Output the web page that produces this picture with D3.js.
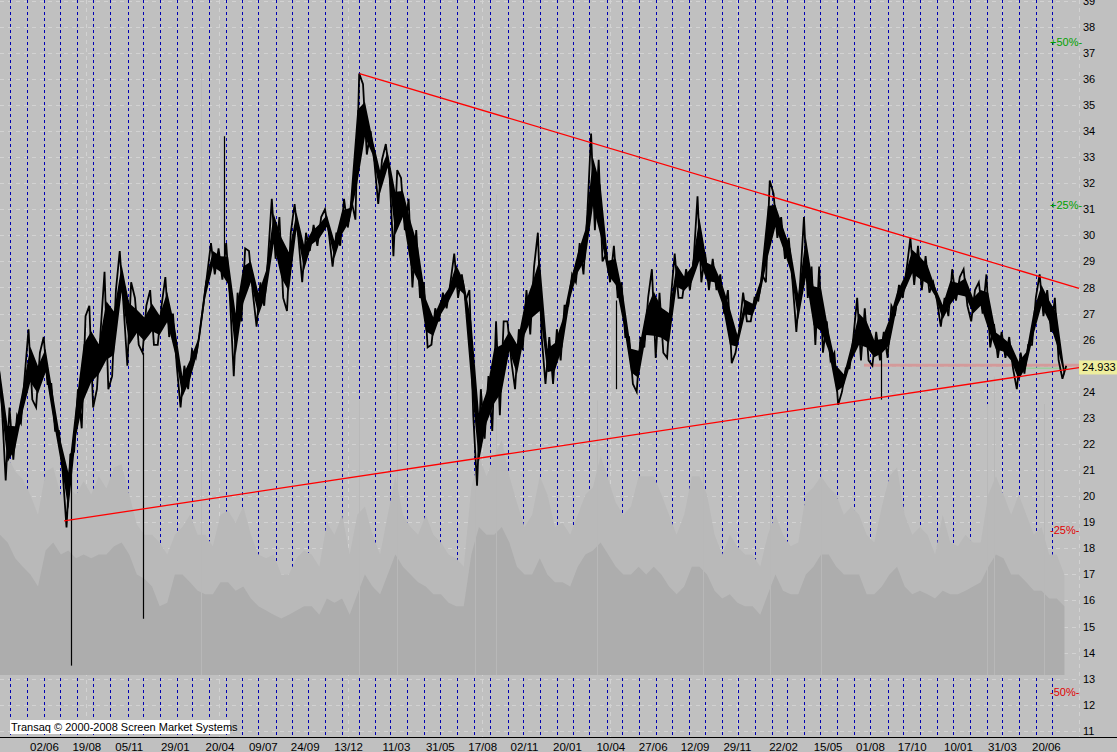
<!DOCTYPE html>
<html><head><meta charset="utf-8">
<script src="https://cdn.jsdelivr.net/npm/d3@7"></script>
<style>
html,body{margin:0;padding:0;background:#c0c0c0;overflow:hidden}
svg{display:block}
text{font-family:"Liberation Sans",Arial,sans-serif;}
</style></head><body>
<svg id="chart" width="1117" height="752"></svg>
<script>
// ---- data ----
const sampleStart = "2003-03-13";   // first sample date (left edge)
const sampleStepDays = 14;          // one sample per two weeks
const priceHigh = [25.3,23.4,23.1,24.6,26.4,25.5,26.1,24.3,22.5,21.6,24.1,26.9,27.3,26.4,28.6,27.9,29.4,28.2,27.6,27.3,
27.9,27.3,28.4,27.0,25.0,25.6,26.2,28.5,29.7,29.5,29.7,27.8,29.5,29.4,28.2,29.1,31.4,30.7,30.1,31.2,
30.1,30.4,30.7,31.0,30.1,31.4,31.3,36.2,35.8,34.0,32.9,33.5,32.5,32.2,31.4,30.2,28.2,27.2,27.8,28.2,
29.3,28.5,27.9,24.1,24.6,26.7,26.7,26.7,26.4,27.9,28.8,30.1,26.1,26.4,27.3,28.5,29.7,30.8,33.9,32.9,
29.3,29.6,28.2,26.1,26.1,27.6,28.7,27.8,27.6,29.3,28.7,29.1,31.5,29.3,29.1,28.5,27.9,26.4,27.8,27.6,
28.5,32.1,31.6,30.7,29.9,28.2,30.7,28.8,28.8,26.7,25.5,24.9,26.1,27.6,27.2,26.3,26.3,27.3,28.1,28.7,
29.9,29.6,29.2,28.2,27.6,28.7,28.4,28.7,27.9,28.2,28.5,26.6,26.3,26.1,25.5,25.8,27.6,28.5,27.9,27.6,25.0];
const priceLow = [23.4,20.6,21.4,22.8,23.7,23.4,24.3,22.5,20.9,18.8,21.7,22.6,23.4,24.1,24.1,24.6,27.3,25.0,25.8,25.5,
25.8,25.8,26.1,25.0,23.4,24.1,25.3,27.3,28.5,28.3,27.6,24.6,26.7,27.8,26.5,27.3,29.1,27.6,27.1,29.9,
28.2,29.4,29.6,30.1,28.8,29.6,30.3,30.6,33.1,32.8,31.2,32.3,29.2,30.2,28.0,27.6,25.7,25.8,26.7,27.2,
27.6,27.5,23.1,20.4,22.2,22.5,23.1,25.2,24.1,25.6,26.2,26.1,24.3,24.3,25.2,27.3,28.2,28.5,30.2,29.0,
28.2,27.6,26.1,24.3,24.0,25.7,25.3,25.5,25.3,27.6,27.6,27.9,28.2,27.9,27.9,27.0,25.1,25.5,26.7,26.7,
27.5,28.2,29.9,29.1,28.2,26.3,27.6,25.8,25.5,25.2,23.5,24.0,24.9,25.2,25.2,25.0,25.2,25.3,27.0,27.6,
28.1,27.9,27.8,27.5,26.5,26.9,27.5,27.3,26.7,27.0,25.7,25.3,25.3,24.9,24.1,24.7,25.8,26.9,26.3,25.2,24.5];
const volumePeak = [39.1,36.4,33.8,32.5,29.9,26.6,33.8,34.5,29.9,31.2,30.0,32.2,30.0,33.0,31.0,34.5,35.0,30.0,25.0,23.3,
23.3,22.0,20.0,23.3,24.6,26.6,23.3,23.3,21.4,26.6,27.3,25.3,28.0,23.3,20.0,19.4,20.0,16.7,16.7,19.4,
20.7,20.0,18.0,25.3,23.3,26.6,20.0,26.6,28.0,23.3,20.0,26.6,33.0,26.6,24.6,23.3,26.6,23.3,22.0,20.0,
19.4,18.0,31.2,36.4,33.0,36.4,39.0,33.0,28.6,24.6,26.6,33.0,30.0,24.6,25.3,23.3,26.6,30.0,31.2,36.4,
32.5,28.6,26.6,28.0,33.0,33.0,33.0,30.0,26.6,23.3,26.6,33.0,33.0,30.0,23.3,20.0,23.3,21.4,20.0,20.0,
18.0,23.3,26.6,23.3,21.4,22.0,30.0,31.2,33.0,31.2,30.0,26.6,28.0,26.6,23.3,22.0,28.0,33.0,34.5,26.6,
23.3,24.6,23.3,20.0,26.6,22.0,21.4,23.3,22.0,22.0,30.0,33.0,30.0,26.6,30.0,26.6,23.3,24.6,20.0,20.0,16.7];
const volumeBase = [23.3,22.0,19.4,18.0,16.7,14.7,20.7,22.0,20.0,20.7,19.4,20.0,19.4,20.0,20.0,21.4,22.0,20.0,16.7,16.0,
14.7,11.4,12.0,16.7,16.7,15.4,14.0,13.4,13.4,15.4,15.4,14.0,14.7,12.7,11.4,10.7,10.0,9.4,10.0,10.7,
11.4,11.4,10.0,12.7,12.0,12.7,10.0,13.4,16.7,14.7,13.4,16.7,20.0,18.0,16.7,15.4,14.7,13.4,13.4,12.0,
11.4,11.4,20.0,24.6,23.3,23.3,24.6,22.0,18.0,16.7,16.7,19.4,16.7,15.4,15.4,14.7,18.0,20.0,20.7,22.0,
20.0,18.0,16.7,16.7,18.0,16.7,18.0,16.7,14.7,13.4,14.7,18.0,18.0,16.7,14.0,12.7,13.4,12.0,11.4,11.4,
10.0,13.4,16.7,14.0,13.4,13.4,16.7,18.0,20.0,20.0,18.0,16.7,16.7,16.7,13.4,13.4,14.7,16.7,18.0,14.7,
13.4,14.0,13.4,12.7,14.0,13.4,13.4,14.0,14.7,15.4,18.0,20.0,19.4,16.7,16.7,15.4,14.0,14.0,12.7,12.7,11.4];
// single-bar outliers of the price series
const spikeDates = ["2003-07-22","2003-12-02","2004-04-29","2006-04-20","2007-08-21"];
const spikeFrom  = [21.0, 25.5, 28.5, 27.5, 25.5];
const spikeTo    = [13.5, 15.3, 33.8, 24.1, 23.7];
// single-day volume outliers
const volSpikeDates = ["2004-03-17","2005-01-03","2005-03-14","2005-08-04","2005-09-12","2006-03-16","2006-09-28","2007-01-29","2007-05-03","2008-03-04","2008-03-17","2008-06-16"];
const volSpikeValues = [100, 45.6, 57.5, 56.8, 79.8, 45.6, 52.9, 52.9, 53.5, 45, 49.6, 45];
// trend lines
const upperTrendDates = ["2005-01-03","2008-08-20"], upperTrendPrices = [36.2, 27.97];
const lowerTrendDates = ["2003-07-09","2008-08-20"], lowerTrendPrices = [19.05, 24.93];
const supportDates = ["2007-07-21","2008-08-20"], supportPrice = 25.02;
const greenDates = ["2008-05-10","2008-07-31"], greenPrice = 24.96;
const lastPrice = 24.933;
const percentSteps = [50, 25, -25, -50];
const priceTicks = [11,12,13,14,15,16,17,18,19,20,21,22,23,24,25,26,27,28,29,30,31,32,33,34,35,36,37,38,39];
const dateLabels = ["2003-06-02","2003-08-19","2003-11-05","2004-01-29","2004-04-20","2004-07-09","2004-09-24","2004-12-13",
"2005-03-11","2005-05-31","2005-08-17","2005-11-02","2006-01-20","2006-04-10","2006-06-27","2006-09-12","2006-11-29",
"2007-02-22","2007-05-15","2007-08-01","2007-10-17","2008-01-10","2008-03-31","2008-06-20"];
const copyright = "Transaq \u00A9 2000-2008 Screen Market Systems";

// ---- scales ----
const parse = d3.timeParse("%Y-%m-%d");
const W = 1117, H = 752, plotR = 1079, axisY = 737.5;
const x = d3.scaleTime().domain([parse("2003-03-13"), parse("2008-08-20")]).range([0, plotR]);
const y = d3.scaleLinear().domain([10, 39]).range([756.9, 0.62]);
const yv = d3.scaleLinear().domain([0, 100]).range([675, 73]);

const start = parse(sampleStart);
const samples = priceHigh.map((h, i) => ({
  date: d3.timeDay.offset(start, i * sampleStepDays),
  hi: h, lo: priceLow[i], vp: volumePeak[i], vb: volumeBase[i]
}));

const svg = d3.select("#chart");
svg.append("rect").attr("width", W).attr("height", H).attr("fill", "#c0c0c0");

const px = v => Math.round(v) + 0.5;

// horizontal grid
svg.append("g").selectAll("line").data(priceTicks).join("line")
  .attr("x1", 0).attr("x2", plotR).attr("y1", d => px(y(d))).attr("y2", d => px(y(d)))
  .attr("stroke", "#d2d2d2").attr("stroke-dasharray", "4,4");
// vertical grid (every third date label) + right border
const vgrid = dateLabels.filter((d, i) => i % 3 === 1).map(parse);
svg.append("g").selectAll("line").data(vgrid).join("line")
  .attr("x1", d => px(x(d))).attr("x2", d => px(x(d))).attr("y1", 0).attr("y2", axisY)
  .attr("stroke", "#d2d2d2").attr("stroke-dasharray", "4,4");
svg.append("line").attr("x1", plotR + 0.5).attr("x2", plotR + 0.5).attr("y1", 0).attr("y2", axisY)
  .attr("stroke", "#d2d2d2").attr("stroke-dasharray", "4,4");

// month separators (first weekday of each month)
const months = d3.timeMonth.range(new Date(2003, 3, 1), new Date(2008, 7, 1)).map(m => {
  let d = new Date(m); while (d.getDay() === 0 || d.getDay() === 6) d = d3.timeDay.offset(d, 1); return d;
});
svg.append("g").selectAll("line").data(months).join("line")
  .attr("x1", d => px(x(d))).attr("x2", d => px(x(d))).attr("y1", 0).attr("y2", axisY - 1)
  .attr("stroke", "#0000b4").attr("stroke-dasharray", "3,3");

// volume
svg.append("path").datum(samples)
  .attr("d", d3.area().x(d => x(d.date)).y0(yv(0)).y1(d => yv(d.vp)))
  .attr("fill", "#b9b9b9");
svg.append("path").datum(samples)
  .attr("d", d3.area().x(d => x(d.date)).y0(yv(0)).y1(d => yv(d.vb)))
  .attr("fill", "#adadad");
svg.append("g").selectAll("line").data(volSpikeDates.map((d, i) => ({ d: parse(d), v: volSpikeValues[i] }))).join("line")
  .attr("x1", d => px(x(d.d))).attr("x2", d => px(x(d.d))).attr("y1", yv(0)).attr("y2", d => yv(d.v))
  .attr("stroke", "#b8b8b8");

// support level (pink) and green level
svg.append("line").attr("x1", x(parse(supportDates[0]))).attr("x2", x(parse(supportDates[1])))
  .attr("y1", y(supportPrice)).attr("y2", y(supportPrice)).attr("stroke", "#d39a9a").attr("stroke-width", 3);
svg.append("line").attr("x1", x(parse(greenDates[0]))).attr("x2", x(parse(greenDates[1])))
  .attr("y1", y(greenPrice) + 1.5).attr("y2", y(greenPrice) + 1.5).attr("stroke", "#9ccc9c").attr("stroke-width", 1.5);

// price: solid core between the lows and highs, plus a zig-zag through each range
svg.append("path").datum(samples)
  .attr("d", d3.area().x(d => x(d.date))
    .y0(d => y(d.lo + 0.25 * (d.hi - d.lo))).y1(d => y(d.hi - 0.25 * (d.hi - d.lo))))
  .attr("fill", "#000");
const zig = [];
samples.forEach((d, i) => {
  const nx = samples[Math.min(i + 1, samples.length - 1)];
  const up = (nx.hi + nx.lo) >= (d.hi + d.lo);
  const xc = x(d.date);
  zig.push([xc - 1.9, y(up ? d.lo : d.hi)]);
  zig.push([xc + 1.9, y(up ? d.hi : d.lo)]);
});
svg.append("path").attr("d", d3.line()(zig))
  .attr("fill", "none").attr("stroke", "#000").attr("stroke-width", 1.8).attr("stroke-linejoin", "miter");
svg.append("g").selectAll("line").data(spikeDates.map((d, i) => ({ d: parse(d), a: spikeFrom[i], b: spikeTo[i] }))).join("line")
  .attr("x1", d => px(x(d.d))).attr("x2", d => px(x(d.d))).attr("y1", d => y(d.a)).attr("y2", d => y(d.b))
  .attr("stroke", "#000").attr("stroke-width", 1.2);

// trend lines
[[upperTrendDates, upperTrendPrices], [lowerTrendDates, lowerTrendPrices]].forEach(([ds, ps]) => {
  svg.append("line").attr("x1", x(parse(ds[0]))).attr("y1", y(ps[0])).attr("x2", x(parse(ds[1]))).attr("y2", y(ps[1]))
    .attr("stroke", "#ff0000").attr("stroke-width", 1.3);
});

// percent labels
svg.append("g").selectAll("text").data(percentSteps).join("text")
  .attr("x", 1050).attr("y", d => y(lastPrice * (1 + d / 100))).attr("dy", "0.35em")
  .attr("font-size", 11).attr("fill", d => d > 0 ? "#00a000" : "#e00000")
  .text(d => (d > 0 ? "+" : "") + d + "%-");

// right axis (the tick hidden under the last-price box is left out, as in the reference)
const shownTicks = priceTicks.filter(t => Math.abs(y(t) - y(lastPrice)) > 8);
const yAxis = svg.append("g").attr("transform", `translate(${plotR},0)`)
  .call(d3.axisRight(y).tickValues(shownTicks).tickSize(0).tickPadding(4).tickFormat(d3.format("d")));
yAxis.select(".domain").remove();
yAxis.selectAll("text").attr("font-size", 11).attr("fill", "#000").attr("font-family", "Liberation Sans, Arial, sans-serif");

// last price label
const lp = svg.append("g").attr("transform", `translate(${plotR},${y(lastPrice)})`);
lp.append("rect").attr("x", 0).attr("y", -7).attr("width", 38).attr("height", 14).attr("fill", "#eeee9e");
lp.append("text").attr("x", 3).attr("y", 0).attr("dy", "0.35em").attr("font-size", 11).attr("fill", "#000")
  .text(d3.format(".3f")(lastPrice));

// bottom axis
svg.append("line").attr("x1", 0).attr("x2", W).attr("y1", axisY).attr("y2", axisY).attr("stroke", "#000");
const xAxis = svg.append("g").attr("transform", `translate(0,${axisY})`)
  .call(d3.axisBottom(x).tickValues(dateLabels.map(parse)).tickSize(0).tickPadding(5).tickFormat(d3.timeFormat("%d/%m")));
xAxis.select(".domain").remove();
xAxis.selectAll("text").attr("font-size", 11.5).attr("fill", "#000").attr("font-family", "Liberation Sans, Arial, sans-serif");

// copyright box
svg.append("rect").attr("x", 10).attr("y", 720).attr("width", 220).attr("height", 14).attr("fill", "#fff");
svg.append("text").attr("x", 11).attr("y", 731).attr("font-size", 11).attr("fill", "#000").text(copyright);
</script>
</body></html>
